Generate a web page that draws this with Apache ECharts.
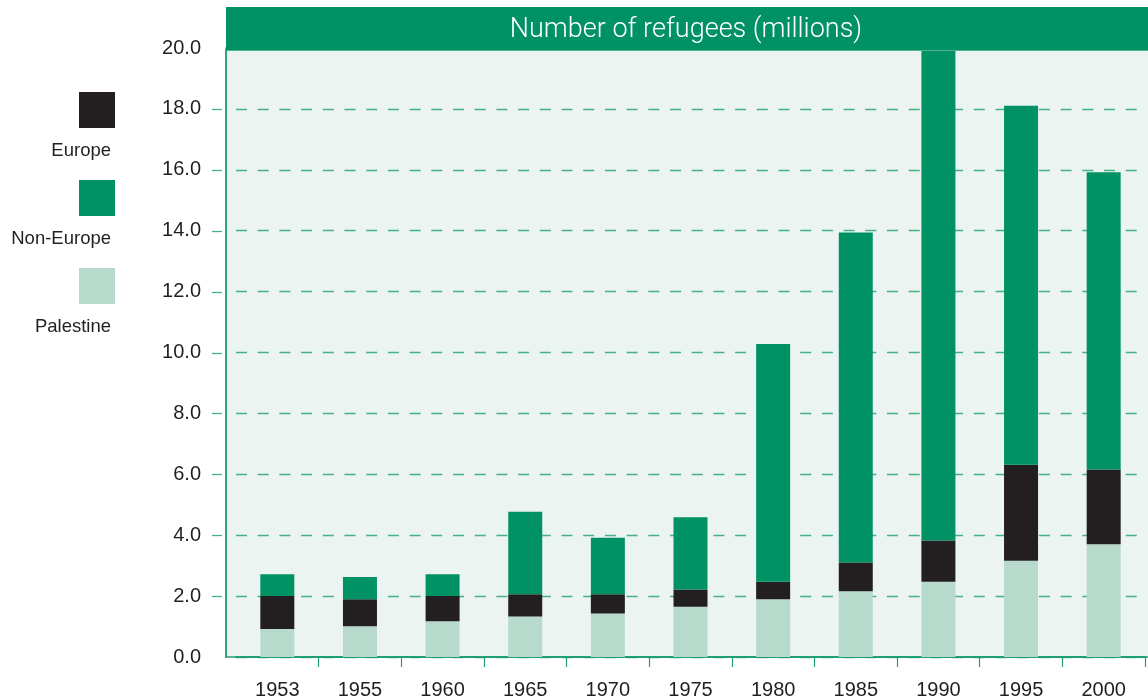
<!DOCTYPE html>
<html>
<head>
<meta charset="utf-8">
<title>Number of refugees</title>
<script src="https://cdn.jsdelivr.net/npm/echarts@6/dist/echarts.min.js"></script>
<style>
    html, body { margin: 0; padding: 0; background: #ffffff; }
    #main { width: 1148px; height: 700px; }
</style>
</head>
<body>
<div id="main"></div>
<script>
// categories
const years = ['1953', '1955', '1960', '1965', '1970', '1975', '1980', '1985', '1990', '1995', '2000'];
// millions of refugees, stacked bottom -> top
const palestine = [0.92, 1.01, 1.17, 1.33, 1.43, 1.65, 1.90, 2.16, 2.47, 3.16, 3.70];
const europe    = [1.08, 0.89, 0.83, 0.73, 0.63, 0.57, 0.57, 0.94, 1.36, 3.15, 2.46];
const nonEurope = [0.72, 0.73, 0.72, 2.71, 1.86, 2.37, 7.81, 10.84, 16.07, 11.79, 9.76];
// y ticks that get the little dash left of the axis
const yTickValues = [2, 4, 6, 8, 10, 12, 14, 16, 18];
const seriesNames = ['Europe', 'Non-Europe', 'Palestine'];

const colors = {
    europe: '#231f20',
    nonEurope: '#009265',
    palestine: '#b8dacc',
    panel: '#ebf4f0',
    axis: '#1f9f72',
    grid: '#45b089',
    text: '#231f20'
};
const legendColors = [colors.europe, colors.nonEurope, colors.palestine];

const myChart = echarts.init(document.getElementById('main'));

// panel, title bar and hand made legend
function baseGraphics() {
    const list = [
        // light panel behind the bars
        {
            type: 'rect',
            z: -10,
            shape: { x: 226, y: 50, width: 930, height: 607 },
            style: { fill: colors.panel, stroke: colors.axis, lineWidth: 1.5 }
        },
        // green title bar
        {
            type: 'rect',
            z: 50,
            shape: { x: 226, y: 7, width: 930, height: 43 },
            style: { fill: colors.nonEurope }
        },
        {
            type: 'text',
            z: 51,
            x: 686,
            y: 30,
            style: {
                text: 'Number of refugees (millions)',
                fill: '#ffffff',
                font: '300 27px Roboto, "Liberation Sans", sans-serif',
                align: 'center',
                verticalAlign: 'middle'
            }
        }
    ];
    // legend: square on top, name underneath (right aligned)
    seriesNames.forEach(function (name, i) {
        const top = 92 + i * 88;
        list.push({
            type: 'rect',
            shape: { x: 79, y: top, width: 36, height: 36 },
            style: { fill: legendColors[i] }
        });
        list.push({
            type: 'text',
            x: 111,
            y: top + 59,
            style: {
                text: name,
                fill: colors.text,
                font: '18.5px "Liberation Sans", Arial, sans-serif',
                align: 'right',
                verticalAlign: 'middle'
            }
        });
    });
    return list;
}

const labelFont = '"Liberation Sans", Arial, sans-serif';

const option = {
    animation: false,
    textStyle: { fontFamily: labelFont },
    tooltip: { trigger: 'axis', axisPointer: { type: 'shadow' } },
    grid: {
        left: 236,
        right: 3,
        top: 48,
        bottom: 43
    },
    graphic: baseGraphics(),
    xAxis: {
        type: 'category',
        data: years,
        axisLine: { show: true, lineStyle: { color: colors.axis, width: 2 } },
        axisTick: {
            show: true,
            length: 10,
            interval: function (index) { return index > 0; },
            lineStyle: { color: colors.axis, width: 1.2 }
        },
        axisLabel: {
            color: colors.text,
            fontSize: 20,
            margin: 23,
            fontFamily: labelFont
        }
    },
    yAxis: {
        type: 'value',
        min: 0,
        max: 20,
        interval: 2,
        offset: 10,
        axisLine: { show: true, lineStyle: { color: colors.axis, width: 1.5 } },
        axisTick: { show: false },
        axisLabel: {
            color: colors.text,
            fontSize: 20,
            margin: 25,
            fontFamily: labelFont,
            formatter: function (value) {
                return value.toFixed(1);
            }
        },
        splitLine: {
            show: true,
            lineStyle: { color: colors.grid, width: 1.3, type: [11, 10.7] }
        }
    },
    series: [
        {
            name: 'Palestine',
            type: 'bar',
            stack: 'total',
            barWidth: 34,
            data: palestine,
            itemStyle: { color: colors.palestine }
        },
        {
            name: 'Europe',
            type: 'bar',
            stack: 'total',
            barWidth: 34,
            data: europe,
            itemStyle: { color: colors.europe }
        },
        {
            name: 'Non-Europe',
            type: 'bar',
            stack: 'total',
            barWidth: 34,
            data: nonEurope,
            itemStyle: { color: colors.nonEurope }
        }
    ]
};
myChart.setOption(option);

// the short dash left of the y axis at each gridline, placed with the y scale
const tickDashes = yTickValues.map(function (v) {
    const y = Math.round(myChart.convertToPixel({ yAxisIndex: 0 }, v)) + 0.5;
    return {
        type: 'line',
        z: 5,
        shape: { x1: 212, y1: y, x2: 222, y2: y },
        style: { stroke: colors.grid, lineWidth: 1.3 }
    };
});
myChart.setOption({ graphic: baseGraphics().concat(tickDashes) });
</script>
</body>
</html>
